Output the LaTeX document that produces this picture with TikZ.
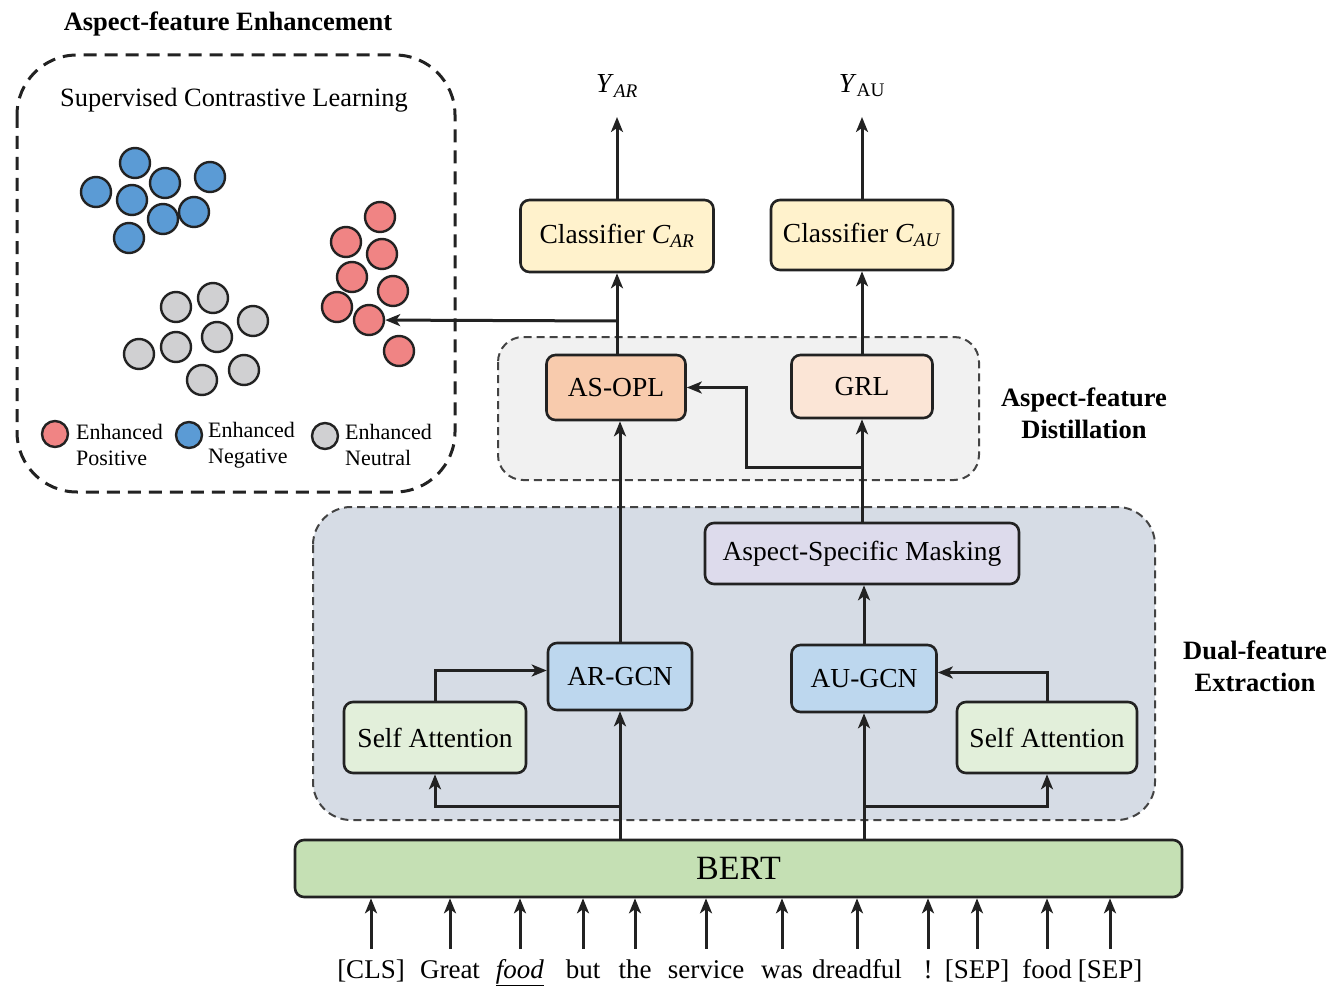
\documentclass[tikz,border=0pt]{standalone}
\usepackage{fontspec}
\setmainfont{Liberation Serif}[BoldFont={Liberation Serif Bold}, ItalicFont={Liberation Serif Italic}, BoldItalicFont={Liberation Serif Bold Italic}]
\usetikzlibrary{arrows.meta,calc}
\definecolor{edge}{HTML}{222222}
\definecolor{cblue}{HTML}{5B9BD5}
\definecolor{cred}{HTML}{F08484}
\definecolor{cgrey}{HTML}{D0D0D2}
\definecolor{fcls}{HTML}{FFF2CC}
\definecolor{fopl}{HTML}{F8CBAD}
\definecolor{fgrl}{HTML}{FBE5D6}
\definecolor{fmask}{HTML}{DDDBEC}
\definecolor{fgcn}{HTML}{BDD7EE}
\definecolor{fsa}{HTML}{E2EFDA}
\definecolor{fbert}{HTML}{C5E0B4}
\definecolor{fdist}{HTML}{F1F1F1}
\definecolor{fdual}{HTML}{D6DCE5}
\tikzset{
  box/.style={draw=edge, line width=2.6pt, rounded corners=9pt, inner sep=0pt,
    font=\fontsize{27.5}{33}\selectfont},
  arr/.style={draw=edge, line width=3pt, -{Stealth[length=15pt,width=12pt,inset=4pt]}},
  dot/.style={circle, draw=edge, line width=2.4pt, minimum size=30pt, inner sep=0pt},
  ldot/.style={circle, draw=edge, line width=2.4pt, minimum size=26pt, inner sep=0pt},
  tok/.style={font=\fontsize{27}{32}\selectfont, anchor=base, inner ysep=2pt, inner xsep=0pt, text height=27pt},
  ttl/.style={font=\fontsize{26.5}{32}\selectfont\bfseries, align=center},
  leg/.style={font=\fontsize{22}{26}\selectfont, align=left, anchor=west, inner sep=0pt},
}
\begin{document}
\begin{tikzpicture}[x=1pt,y=-1pt]
\useasboundingbox (0,0) rectangle (1335,987);

% background regions
\draw[edge, line width=3pt, dash pattern=on 13pt off 8pt, rounded corners=60pt] (17,55) rectangle (455,492);
\draw[edge!85, fill=fdist, line width=2pt, dash pattern=on 8pt off 5pt, rounded corners=25pt] (498,337) rectangle (979,480);
\draw[edge!85, fill=fdual, line width=2pt, dash pattern=on 8pt off 5pt, rounded corners=38pt] (313,507) rectangle (1155,820);

% titles
\node[ttl] (tAFE) at (228,24) {Aspect-feature Enhancement};
\node[ttl] (tAFD) at (1084,413) {Aspect-feature\\Distillation};
\node[ttl] (tDFE) at (1255,666) {Dual-feature\\Extraction};
\node[font=\fontsize{26.4}{32}\selectfont] (tSCL) at (234,100) {Supervised Contrastive Learning};

% clusters
\foreach \n/\x/\y in {1/135/163,2/165/183,3/210/177,4/96/192,5/132/200,6/163/219,7/194/212,8/129/238}
  \node[dot, fill=cblue] (b\n) at (\x,\y) {};
\foreach \n/\x/\y in {1/380/217,2/346/242,3/382/254,4/352/277,5/393/291,6/337/307,7/369/320,8/399/351}
  \node[dot, fill=cred] (r\n) at (\x,\y) {};
\foreach \n/\x/\y in {1/176/307,2/213/298,3/253/321,4/217/337,5/176/347,6/139/354,7/244/370,8/202/380}
  \node[dot, fill=cgrey] (g\n) at (\x,\y) {};

% legend
\node[ldot, fill=cred] (lr) at (55,434) {};
\node[leg] (lrt) at (76,445) {Enhanced\\Positive};
\node[ldot, fill=cblue] (lb) at (189,435) {};
\node[leg] (lbt) at (208,445) {Enhanced\\Negative};
\node[ldot, fill=cgrey] (lg) at (325,436) {};
\node[leg] (lgt) at (345,445) {Enhanced\\Neutral};

% boxes
\node[box, fill=fcls, minimum width=193pt, minimum height=72pt] (CAR) at (617,236) {Classifier \textit{C}\textsubscript{\textit{AR}}};
\node[box, fill=fcls, minimum width=182pt, minimum height=70pt] (CAU) at (862,235) {Classifier \textit{C}\textsubscript{\textit{AU}}};
\node[box, fill=fopl, minimum width=139pt, minimum height=65pt] (OPL) at (616,387.5) {AS-OPL};
\node[box, fill=fgrl, minimum width=141pt, minimum height=63pt] (GRL) at (862,386.5) {GRL};
\node[box, fill=fmask, minimum width=314pt, minimum height=61pt] (MASK) at (862,553.5) {Aspect-Specific Masking};
\node[box, fill=fgcn, minimum width=144pt, minimum height=67pt] (ARG) at (620,676.5) {AR-GCN};
\node[box, fill=fgcn, minimum width=145pt, minimum height=67pt] (AUG) at (864,678.5) {AU-GCN};
\node[box, fill=fsa, minimum width=182pt, minimum height=71pt] (SAL) at (435,737.5) {Self Attention};
\node[box, fill=fsa, minimum width=180pt, minimum height=71pt] (SAR) at (1047,737.5) {Self Attention};
\node[box, fill=fbert, minimum width=887pt, minimum height=57pt, font=\fontsize{34}{40}\selectfont] (BERT) at (738.5,868.5) {BERT};

% outputs
\node[font=\fontsize{27.5}{33}\selectfont] (YAR) at (617,86) {\textit{Y}\textsubscript{\textit{AR}}};
\node[font=\fontsize{27.5}{33}\selectfont] (YAU) at (862,86) {\textit{Y}\textsubscript{AU}};
\coordinate (yarT) at (617,117);
\coordinate (yauT) at (862,117);
\draw[arr] (CAR.north) -- (yarT);
\draw[arr] (CAU.north) -- (yauT);

% distillation connections
\draw[arr] (OPL.north -| CAR.south) -- (CAR.south);
\coordinate (jred) at (617,321);
\draw[arr] (jred) -- (r7);
\draw[arr] (GRL.north) -- (CAU.south);
\coordinate (jb) at (862,467);
\coordinate (kb) at (746,467);
\draw[arr] (jb) -- (kb) |- (OPL.east);
\draw[arr] (MASK.north) -- (GRL.south);
\draw[arr] (ARG.north) -- (ARG.north |- OPL.south);

% extraction connections
\draw[arr] (AUG.north) -- (AUG.north |- MASK.south);
\draw[arr] (SAL.north) |- ([yshift=6pt]ARG.west);
\draw[arr] (SAR.north) |- ([yshift=6pt]AUG.east);
\draw[arr] (ARG.south |- BERT.north) -- (ARG.south);
\draw[arr] (AUG.south |- BERT.north) -- (AUG.south);
\coordinate (jl) at (620,806);
\coordinate (jr) at (864,806);
\draw[arr] (jl) -| (SAL.south);
\draw[arr] (jr) -| (SAR.south);

% tokens
\foreach \n/\x/\w in {1/371/{[CLS]},2/450/{Great},3/520/{\underline{\textit{food}}},4/583/{but},5/635/{the},6/706/{service},7/782/{was},8/857/{dreadful},9/928/{!},10/977/{[SEP]},11/1047/{food},12/1110/{[SEP]}}{
  \node[tok] (t\n) at (\x,978) {\w};
  \draw[arr] (t\n.north) -- (t\n.north |- BERT.south);
}
\end{tikzpicture}
\end{document}
